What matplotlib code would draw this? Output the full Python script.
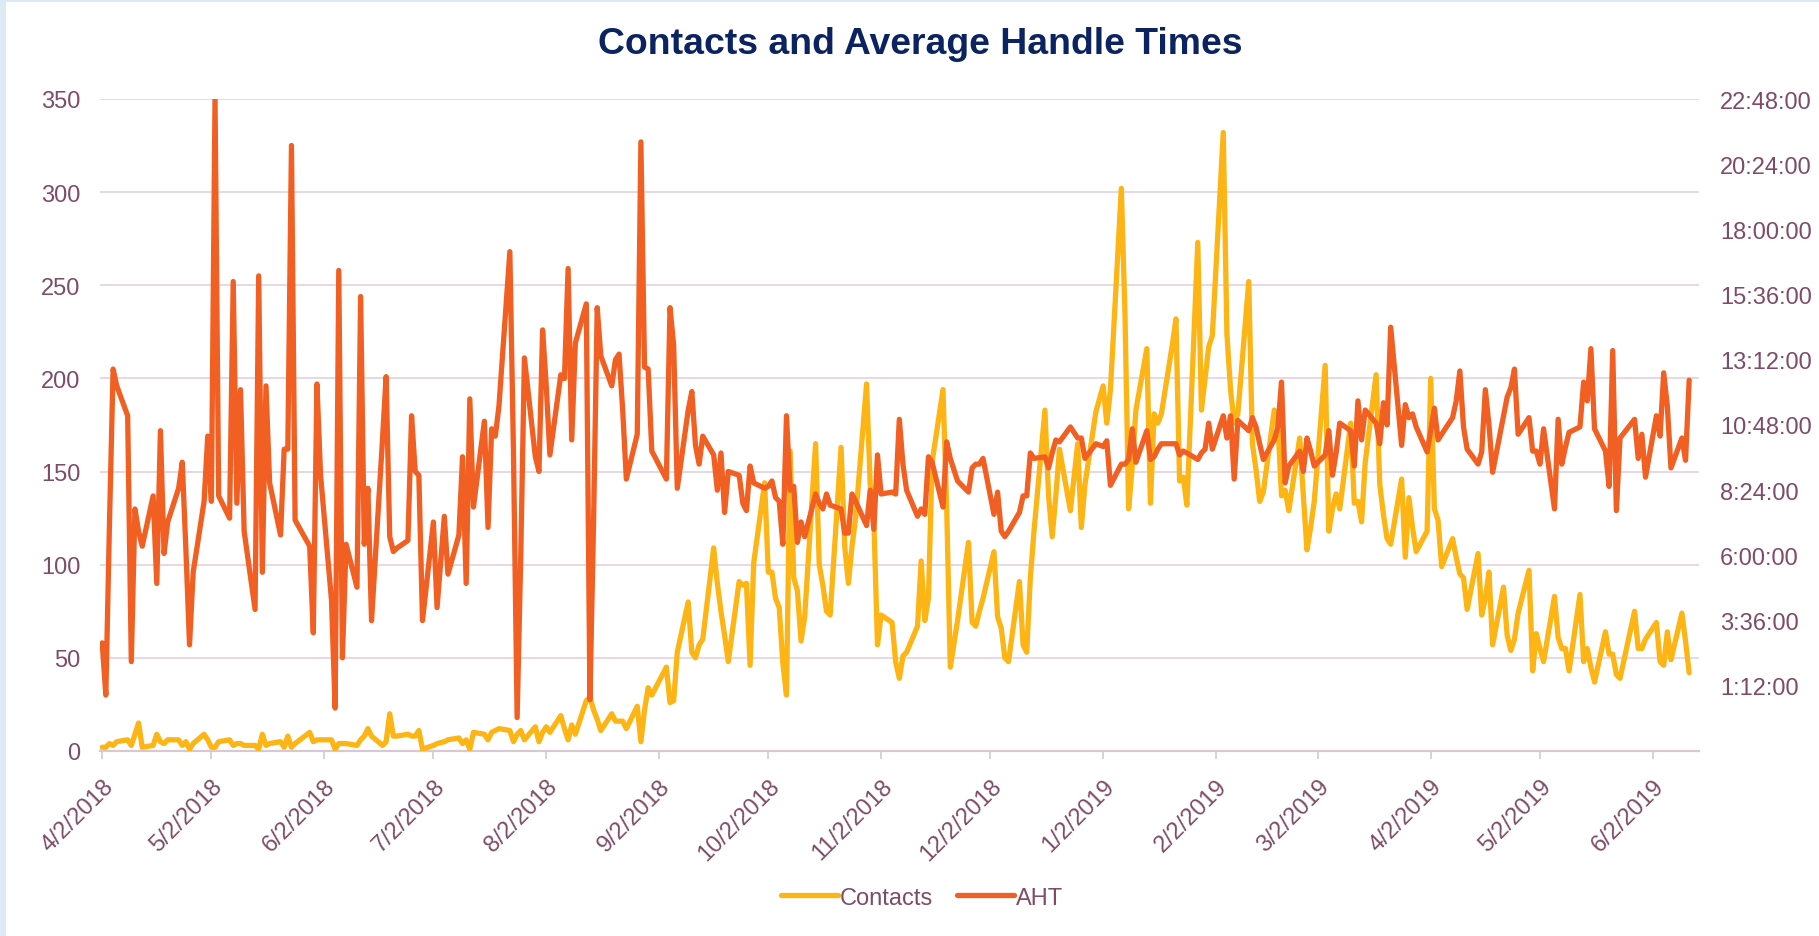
import matplotlib
matplotlib.use("Agg")
import matplotlib.pyplot as plt
import matplotlib.dates as mdates
from matplotlib import font_manager
from matplotlib.lines import Line2D
from matplotlib.patches import Rectangle
import pandas as pd


def pick_font(names):
    for name in names:
        try:
            font_manager.findfont(font_manager.FontProperties(family=name),
                                  fallback_to_default=False)
            return name
        except Exception:
            continue
    return "DejaVu Sans"


FONT = pick_font(["Liberation Sans", "Arial", "DejaVu Sans"])
plt.rcParams["font.family"] = [FONT, "DejaVu Sans"]

# ---------------------------------------------------------------- data
START = "2018-04-02"
END = "2019-06-12"
HOLIDAYS = ["2018-05-28", "2018-07-04", "2018-09-03", "2018-11-22",
            "2018-12-25", "2019-01-01", "2019-05-27"]
WEEKEND_DAYS = ["2018-10-06", "2018-10-07"]

# daily contacts, one row per week
contacts = [
    2, 2, 4, 3, 5,
    6, 3, 9, 15, 2,
    3, 9, 5, 4, 6,
    6, 3, 5, 1, 4,
    9, 6, 2, 2, 5,
    6, 3, 4, 4, 3,
    3, 1, 9, 3, 4,
    5, 2, 8, 2, 4,
    10, 5, 6, 6,
    6, 1, 4, 4, 4,
    3, 6, 8, 12, 8,
    3, 5, 20, 8, 8,
    9, 8, 8, 11, 1,
    3, 4, 5, 6,
    7, 4, 6, 1, 10,
    9, 6, 10, 11, 12,
    11, 5, 9, 11, 6,
    13, 5, 10, 13, 10,
    19, 12, 6, 14, 9,
    27, 29, 22, 17, 11,
    20, 16, 16, 16, 12,
    24, 5, 22, 34, 30,
    45, 26, 27, 53,
    80, 53, 50, 57, 60,
    109, 90, 75, 62, 48,
    91, 89, 90, 46, 101,
    144, 96, 96, 82, 77, 47, 30,
    161, 93, 86, 59, 72,
    165, 100, 89, 75, 73,
    163, 110, 90, 110, 125,
    197, 143, 124, 57, 73,
    69, 48, 39, 51, 53,
    67, 102, 70, 82, 155,
    194, 132, 45, 70,
    112, 69, 67, 75, 82,
    107, 72, 66, 50, 48,
    91, 57, 53, 93, 118,
    183, 137, 115, 137, 162,
    129, 165, 120, 143,
    182, 196, 176, 194,
    302, 234, 130, 153, 183,
    216, 133, 181, 176, 181,
    218, 232, 145, 147, 132,
    273, 183, 200, 217, 223,
    332, 224, 194, 176, 181,
    252, 165, 151, 134, 139,
    183, 176, 137, 140, 129,
    168, 137, 108, 120, 134,
    207, 118, 130, 138, 130,
    176, 133, 134, 123, 155,
    202, 143, 127, 114, 111,
    146, 104, 136, 120, 107,
    118, 200, 130, 124, 99,
    114, 104, 95, 93, 76,
    106, 73, 82, 96, 57,
    88, 62, 54, 60, 74,
    97, 43, 63, 55, 48,
    83, 61, 55, 55, 43,
    84, 48, 55, 45, 37,
    64, 52, 52, 41, 39,
    75, 55, 55, 60,
    69, 48, 46, 64, 49,
    74, 59, 42,
]

# average handle time in hours, same rows as contacts
aht_hours = [
    2.78, 0.86, 7.17, 12.86, 12.24,
    11.14, 2.09, 7.71, 6.89, 6.34,
    8.19, 4.97, 10.59, 6.07, 7.23,
    8.47, 9.43, 6.21, 2.71, 5.38,
    7.99, 10.39, 7.99, 22.80, 8.19,
    7.37, 16.08, 7.92, 12.10, 6.89,
    4.01, 16.29, 5.38, 12.24, 8.67,
    6.75, 9.91, 9.91, 21.09, 7.30,
    6.34, 3.15, 12.31, 8.95,
    4.35, 0.38, 16.49, 2.23, 6.41,
    4.83, 15.53, 6.41, 8.47, 3.60,
    10.25, 12.58, 6.69, 6.14, 6.27,
    6.55, 11.14, 9.09, 8.95, 3.60,
    7.23, 4.08, 7.44, 5.31,
    6.75, 9.63, 4.97, 11.76, 7.78,
    10.94, 7.03, 10.66, 10.39, 11.49,
    17.18, 9.77, 0.03, 6.00, 13.27,
    9.63, 9.09, 14.30, 12.24, 9.70,
    12.65, 12.51, 16.56, 10.25, 13.82,
    15.26, 0.69, 7.23, 15.12, 13.34,
    12.24, 13.20, 13.41, 11.35, 8.81,
    10.46, 21.22, 12.93, 12.86, 9.84,
    8.81, 15.12, 13.75, 8.47,
    11.35, 12.03, 10.05, 9.36, 10.39,
    9.70, 8.40, 9.77, 7.58, 9.09,
    8.95, 7.92, 7.65, 9.29, 8.67,
    8.47, 8.54, 8.74, 8.13, 7.99, 6.41, 11.14,
    8.40, 8.54, 6.48, 7.23, 6.69,
    8.26, 7.92, 7.71, 8.26, 7.85,
    7.71, 6.82, 6.82, 8.26, 7.99,
    7.10, 8.40, 6.96, 9.70, 8.26,
    8.33, 8.26, 11.01, 9.36, 8.40,
    7.44, 7.71, 7.51, 9.63, 9.43,
    7.78, 10.18, 9.57, 8.74,
    8.33, 9.22, 9.36, 9.36, 9.57,
    7.51, 8.33, 6.89, 6.69, 6.89,
    7.58, 8.19, 8.19, 9.77, 9.57,
    9.63, 9.22, 9.77, 10.25, 10.18,
    10.73, 10.32, 10.32, 9.57,
    10.11, 10.01, 10.22, 8.58,
    9.36, 9.36, 9.53, 10.66, 9.43,
    10.59, 9.53, 9.63, 9.91, 10.11,
    10.11, 10.11, 9.70, 9.84, 9.77,
    9.53, 9.77, 9.91, 10.87, 9.91,
    11.14, 10.32, 11.14, 8.81, 10.97,
    10.59, 11.07, 10.73, 10.11, 9.53,
    10.25, 10.73, 12.38, 8.67, 9.29,
    9.84, 9.09, 10.32, 9.84, 9.29,
    9.70, 10.59, 8.95, 9.77, 10.87,
    10.59, 9.29, 11.69, 10.25, 11.35,
    10.87, 10.11, 11.62, 10.80, 14.40,
    10.05, 11.55, 11.07, 11.21, 10.73,
    9.81, 10.59, 11.42, 10.25, 10.46,
    11.07, 11.69, 12.79, 10.73, 9.91,
    9.36, 9.81, 12.10, 10.80, 9.06,
    11.14, 11.83, 12.17, 12.86, 10.46,
    11.07, 9.84, 9.84, 9.36, 10.66,
    7.71, 11.01, 9.36, 9.98, 10.53,
    10.73, 12.38, 11.69, 13.61, 10.66,
    9.84, 8.54, 13.54, 7.65, 10.32,
    11.01, 9.57, 10.46, 8.88,
    11.14, 10.39, 12.72, 11.49, 9.22,
    10.32, 9.50, 12.45,
]

left_ticks = [0, 50, 100, 150, 200, 250, 300, 350]
right_ticks_hours = [1.2, 3.6, 6.0, 8.4, 10.8, 13.2, 15.6, 18.0, 20.4, 22.8]
month_ticks = pd.date_range("2018-04-01", "2019-06-01", freq="MS") + pd.Timedelta(days=1)

days = pd.bdate_range(START, END)
days = days[~days.isin(pd.to_datetime(HOLIDAYS))]
days = days.union(pd.to_datetime(WEEKEND_DAYS)).sort_values()
assert len(days) == len(contacts) == len(aht_hours), (len(days), len(contacts), len(aht_hours))

# ---------------------------------------------------------------- style
C_CONTACTS = "#FDB515"
C_AHT = "#F15F22"
C_TEXT = "#7E4C68"
C_TITLE = "#0B2461"
C_GRID = "#E5D6DE"
LW = 3.8
FS = 17

W, H = 1819, 937
fig = plt.figure(figsize=(W / 100, H / 100), dpi=100)
fig.patch.set_facecolor("#DCEBF3")
fig.add_artist(Rectangle((6 / W, 0), 1 - 6 / W, 1 - 3 / H, transform=fig.transFigure,
                         facecolor="white", edgecolor="none", zorder=-10))

ax = fig.add_axes([100 / W, 1 - 752 / H, (1699 - 100) / W, (752 - 100) / H])
ax.set_facecolor("none")
ax2 = ax.twinx()

x = mdates.date2num(days)
ax.plot(x, contacts, color=C_CONTACTS, lw=LW, solid_joinstyle="round",
        solid_capstyle="round", zorder=3)
ax2.plot(x, aht_hours, color=C_AHT, lw=LW, solid_joinstyle="round",
         solid_capstyle="round", zorder=3)

x0 = mdates.date2num(pd.Timestamp(START))
ax.set_xlim(x0 - 0.6, x0 + 438.7)
ax.set_ylim(0, 350)
ax2.set_ylim(-1.2, 22.8)

ax.set_yticks(left_ticks)
ax.set_yticklabels([str(v) for v in left_ticks])
ax2.set_yticks(right_ticks_hours)


def hms(h):
    total = int(round(h * 3600))
    return f"{total // 3600}:{(total % 3600) // 60:02d}:{total % 60:02d}"


ax2.set_yticklabels([hms(h) for h in right_ticks_hours])

ax.set_xticks(mdates.date2num(month_ticks))
ax.set_xticklabels([f"{d.month}/{d.day}/{d.year}" for d in month_ticks],
                   rotation=45, ha="right", va="top", rotation_mode="anchor")

for a in (ax, ax2):
    for s in a.spines.values():
        s.set_visible(False)
ax.spines["bottom"].set_visible(True)
ax.spines["bottom"].set_color("#D9C7D1")
ax.spines["bottom"].set_linewidth(1.6)

ax.yaxis.grid(True, color=C_GRID, lw=1.3)
ax.set_axisbelow(True)
ax.tick_params(axis="y", length=0, pad=14, labelsize=FS, labelcolor=C_TEXT)
ax2.tick_params(axis="y", length=0, pad=15, labelsize=FS, labelcolor=C_TEXT)
ax.tick_params(axis="x", length=6, width=1.2, color="#D9C7D1", pad=11,
               labelsize=FS, labelcolor=C_TEXT)

fig.text(0.506, 0.953, "Contacts and Average Handle Times", ha="center", va="center",
         fontsize=26.9, fontweight="bold", color=C_TITLE)

handles = [Line2D([], [], color=C_CONTACTS, lw=LW, solid_capstyle="round"),
           Line2D([], [], color=C_AHT, lw=LW, solid_capstyle="round")]
leg = fig.legend(handles, ["Contacts", "AHT"], loc="center", bbox_to_anchor=(0.507, 0.041),
                 ncol=2, frameon=False, fontsize=FS, handlelength=2.4,
                 handletextpad=0.1, columnspacing=1.0)
for t in leg.get_texts():
    t.set_color(C_TEXT)

fig.savefig("out.png", dpi=100, facecolor=fig.get_facecolor())
